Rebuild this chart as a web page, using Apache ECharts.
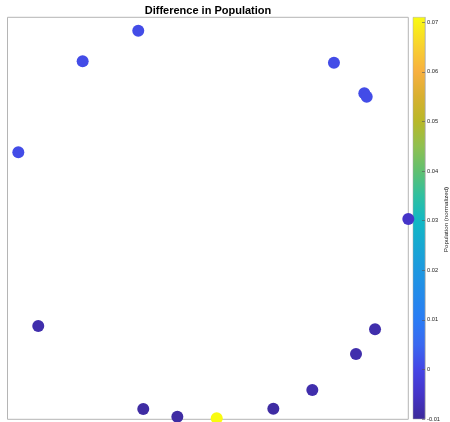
<!DOCTYPE html>
<html><head><meta charset="utf-8">
<script src="https://cdn.jsdelivr.net/npm/echarts@6/dist/echarts.min.js"></script>
<style>html,body{margin:0;padding:0;background:#fff}#c{width:450px;height:422px}</style>
</head><body><div id="c"></div>
<script>
// point positions (plot units) and population difference values
const pointX = [130.5, 75.0, 10.8, 325.8, 356.1, 358.5, 400.0, 30.7, 366.8, 347.8, 304.2, 265.3, 135.5, 169.5, 208.8];
const pointY = [386.7, 356.2, 265.7, 354.8, 324.4, 321.0, 199.3, 92.8, 89.6, 65.0, 29.2, 10.5, 10.2, 2.6, 1.0];
const pointValue = [0.001, 0.001, 0.001, 0.001, 0.001, 0.001, -0.005, -0.008, -0.008, -0.008, -0.008, -0.009, -0.009, -0.009, 0.071];

const colorTicks = [-0.01, 0, 0.01, 0.02, 0.03, 0.04, 0.05, 0.06, 0.07];
const colorTickLabels = ['-0.01', '0', '0.01', '0.02', '0.03', '0.04', '0.05', '0.06', '0.07'];
const colorMin = -0.01;
const colorMax = 0.071;

// colormap
const stopValues = [-0.010, -0.005, 0.000, 0.005, 0.010, 0.020, 0.030, 0.035, 0.040, 0.045, 0.050, 0.055, 0.060, 0.065, 0.071];
const stopColors = ['#3d2a9a', '#4534c8', '#4545e5', '#3a68f0', '#2a7cf5', '#1e98e0', '#12b8c4', '#30c0a0', '#60c070', '#90c050', '#b8b828', '#d8b030', '#f8b040', '#f8d030', '#f9fb10'];

const X_MAX = 400, Y_MAX = 400;

function hexToRgb(h){return [parseInt(h.substr(1,2),16),parseInt(h.substr(3,2),16),parseInt(h.substr(5,2),16)];}
function colorAt(v){
  if (v <= stopValues[0]) return stopColors[0];
  for (let i = 1; i < stopValues.length; i++) {
    if (v <= stopValues[i]) {
      const t = (v - stopValues[i-1]) / (stopValues[i] - stopValues[i-1]);
      const a = hexToRgb(stopColors[i-1]), b = hexToRgb(stopColors[i]);
      const c = a.map((x, k) => Math.round(x + (b[k] - x) * t));
      return 'rgb(' + c.join(',') + ')';
    }
  }
  return stopColors[stopColors.length - 1];
}
const N = 82;
const colorList = [];
for (let i = 0; i < N; i++) colorList.push(colorAt(colorMin + (colorMax - colorMin) * i / (N - 1)));
const gradStops = stopValues.map((v, i) => ({offset: (v - colorMin) / (colorMax - colorMin), color: stopColors[i]}));

const inner = [], edge = [];
pointX.forEach((x, i) => {
  const d = [x, pointY[i], pointValue[i]];
  if (x >= X_MAX) edge.push(d); else inner.push(d);
});

const chart = echarts.init(document.getElementById('c'), null, {renderer: 'canvas'});
const font = 'Liberation Sans, Arial, Helvetica, sans-serif';
chart.setOption({
  animation: false,
  backgroundColor: '#fff',
  title: {
    text: 'Difference in Population', left: 208, top: 5, padding: 0, textAlign: 'center',
    textStyle: {fontSize: 11, fontWeight: 'bold', color: '#000', fontFamily: font}
  },
  grid: [
    {left: 7.5, top: 17.3, width: 400.8, height: 402, show: true, borderColor: '#b5b5b5', borderWidth: 1, backgroundColor: 'transparent'},
    {left: 413, top: 17.3, width: 12, height: 402, show: false}
  ],
  xAxis: [
    {gridIndex: 0, type: 'value', min: 0, max: X_MAX, show: false},
    {gridIndex: 1, type: 'value', min: 0, max: 1, show: false}
  ],
  yAxis: [
    {gridIndex: 0, type: 'value', min: 0, max: Y_MAX, show: false},
    {gridIndex: 1, type: 'value', position: 'right', min: colorMin, max: colorMax, z: 10,
      axisLine: {show: true, onZero: false, lineStyle: {color: '#a8a8a8', width: 0.5}},
      axisTick: {show: true, inside: true, length: 3, customValues: colorTicks, lineStyle: {color: '#555', width: 0.6}},
      axisLabel: {show: true, customValues: colorTicks, margin: 2, fontSize: 5.7, color: '#222', fontFamily: font,
        formatter: function (v) {
          let best = 0;
          colorTicks.forEach((t, i) => { if (Math.abs(t - v) < Math.abs(colorTicks[best] - v)) best = i; });
          return colorTickLabels[best];
        }},
      splitLine: {show: false}
    }
  ],
  visualMap: [{
    type: 'continuous', show: false, min: colorMin, max: colorMax, dimension: 2,
    seriesIndex: [0, 1], inRange: {color: colorList}
  }],
  series: [
    {type: 'scatter', xAxisIndex: 0, yAxisIndex: 0, data: inner, symbolSize: 12, clip: true, itemStyle: {opacity: 1}},
    {type: 'scatter', xAxisIndex: 0, yAxisIndex: 0, data: edge, symbolSize: 12, clip: false, itemStyle: {opacity: 1}},
    {type: 'custom', xAxisIndex: 1, yAxisIndex: 1, clip: false, silent: true, z: 1,
      data: [[0, colorMin, 1, colorMax]],
      encode: {x: [0, 2], y: [1, 3]},
      renderItem: function (params, api) {
        const p0 = api.coord([api.value(0), api.value(1)]);
        const p1 = api.coord([api.value(2), api.value(3)]);
        return {type: 'rect', shape: {x: p0[0], y: p1[1], width: p1[0] - p0[0], height: p0[1] - p1[1]},
          style: {fill: new echarts.graphic.LinearGradient(0, 1, 0, 0, gradStops), stroke: '#a8a8a8', lineWidth: 0.5}};
      }
    }
  ],
  graphic: [{
    type: 'text', x: 446.5, y: 219.5, rotation: Math.PI / 2,
    style: {text: 'Population (normalized)', fill: '#222', fontSize: 6.2, fontFamily: font, align: 'center', verticalAlign: 'middle'}
  }]
});
</script></body></html>
